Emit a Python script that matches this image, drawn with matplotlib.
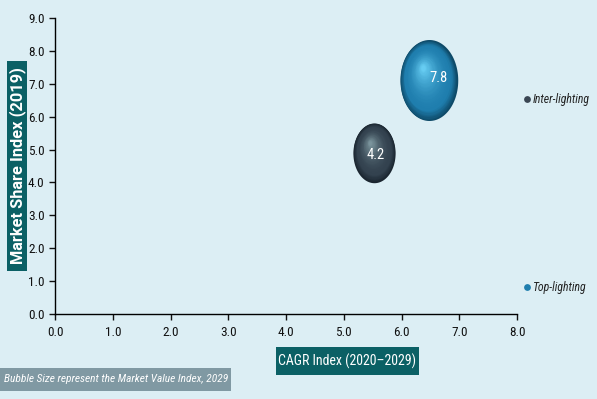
import numpy as np
import matplotlib
matplotlib.use("Agg")
import matplotlib.pyplot as plt
from matplotlib.path import Path
from matplotlib.patches import Rectangle
from matplotlib.transforms import ScaledTranslation
from matplotlib.colors import to_rgb

# ---- data ----
segments = ["Inter-lighting", "Top-lighting"]
cagr_index = [5.53, 6.47]          # x
market_share_index = [4.91, 7.10]  # y
market_value_index = [4.2, 7.8]    # bubble size
xticks = [0, 1, 2, 3, 4, 5, 6, 7, 8]
yticks = [0, 1, 2, 3, 4, 5, 6, 7, 8, 9]

# ---- style ----
BG = "#DCEEF4"
TEAL = "#0B6065"
edge_cols = ["#1B2630", "#0E4A68"]
base_cols = ["#33424F", "#1F7EAE"]
hi_cols = ["#7A949C", "#66CCF2"]

plt.rcParams['font.family'] = ['Roboto Condensed', 'DejaVu Sans']

W, H = 597, 399
fig = plt.figure(figsize=(5.97, 3.99), dpi=100, facecolor=BG)
ax = fig.add_axes([55/W, 1-314/H, (517-55)/W, (314-18)/H])
ax.set_facecolor(BG)
ax.set_xlim(0, 8)
ax.set_ylim(0, 9)
ax.set_xticks(xticks)
ax.set_yticks(yticks)
ax.set_xticklabels([f"{v:.1f}" for v in xticks])
ax.set_yticklabels([f"{v:.1f}" for v in yticks])
for s in ["top", "right"]:
    ax.spines[s].set_visible(False)
for s in ["left", "bottom"]:
    ax.spines[s].set_linewidth(1.0)
    ax.spines[s].set_color("black")
ax.tick_params(axis="both", direction="out", length=4, width=1, labelsize=9.5, colors="#111111")
ax.tick_params(axis="x", pad=5)

# ellipse marker (taller than wide)
t = np.linspace(0, 2*np.pi, 100)
ell = Path(np.column_stack([0.355*np.cos(t), 0.5*np.sin(t)]), closed=True)

K = 436.0
nl = 40
for i in range(len(segments)):
    x, y, v = cagr_index[i], market_share_index[i], market_value_index[i]
    s = K * v
    hpt = np.sqrt(s)
    e, b, h = map(np.array, (to_rgb(edge_cols[i]), to_rgb(base_cols[i]), to_rgb(hi_cols[i])))
    dx_hl, dy_hl = -0.07*hpt, 0.16*hpt
    for k in range(nl):
        f = k/(nl-1)
        scale = 1 - 0.93*f
        if f < 0.2:
            c = e + (b-e)*(f/0.2)
        else:
            c = b + (h-b)*((f-0.2)/0.8)**1.8
        tr = ax.transData + ScaledTranslation(dx_hl*f/72, dy_hl*f/72, fig.dpi_scale_trans)
        ax.scatter([x], [y], s=s*scale**2, marker=ell, color=c, linewidths=0,
                   transform=tr, zorder=3+k*0.01, clip_on=False)
    off = (7, 2) if i == 1 else (1, -2)
    ax.annotate(f"{v}", (x, y), xytext=off, textcoords="offset points",
                ha="center", va="center", color="white", fontsize=10.5, zorder=5)

# legend-like side labels
leg_y = [6.53, 0.82]
leg_col = ["#3A4653", "#1F7EAE"]
for i in range(len(segments)):
    ax.scatter([8.18], [leg_y[i]], s=24, color=leg_col[i], clip_on=False, zorder=4, linewidths=0)
    ax.text(8.27, leg_y[i], segments[i], ha="left", va="center", fontsize=8.5,
            style="italic", color="#222222", clip_on=False)

def box(x0, y0, x1, y1, color):
    fig.add_artist(Rectangle((x0/W, 1-y1/H), (x1-x0)/W, (y1-y0)/H,
                             transform=fig.transFigure, fc=color, ec="none", zorder=1))

# axis titles in boxes
box(7, 61, 27, 271, TEAL)
fig.text(17.5/W, 1-166/H, "Market Share Index (2019)", rotation=90, ha="center", va="center",
         color="white", fontsize=11.8, fontweight="bold", family=["Roboto", "DejaVu Sans"], zorder=2)
box(276, 347, 419, 375, TEAL)
fig.text(347.5/W, 1-361/H, "CAGR Index (2020\u20132029)", ha="center", va="center",
         color="white", fontsize=10, zorder=2)
box(0, 368, 231, 391, "#8099A3")
fig.text(4/W, 1-379.5/H, "Bubble Size represent the Market Value Index, 2029", ha="left", va="center",
         color="white", fontsize=8.2, style="italic", zorder=2)

fig.savefig("out.png", dpi=100, facecolor=BG)
